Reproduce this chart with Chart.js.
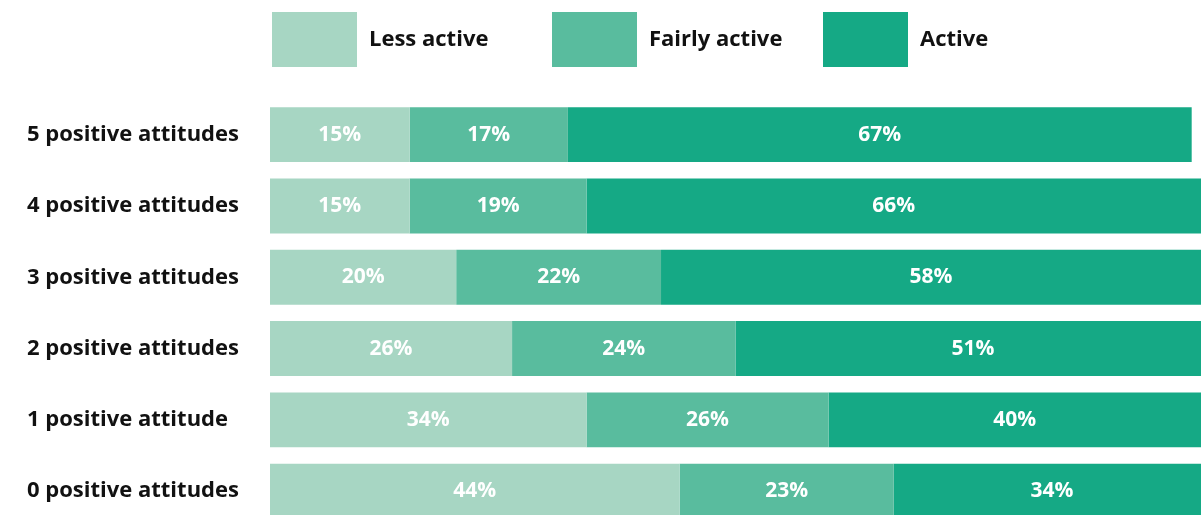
<!DOCTYPE html>
<html>
<head>
<meta charset="utf-8">
<script src="https://cdn.jsdelivr.net/npm/chart.js@4.4.1/dist/chart.umd.min.js"></script>
<style>
  html, body { margin: 0; padding: 0; background: #fff; overflow: hidden; }
  canvas { display: block; }
</style>
</head>
<body>
<canvas id="c" width="1201" height="543"></canvas>
<script>
// Activity level by number of positive attitudes (share of people, %)
const categories = [
  '5 positive attitudes',
  '4 positive attitudes',
  '3 positive attitudes',
  '2 positive attitudes',
  '1 positive attitude',
  '0 positive attitudes'
];
const seriesNames = ['Less active', 'Fairly active', 'Active'];
const lessActive   = [15, 15, 20, 26, 34, 44];
const fairlyActive = [17, 19, 22, 24, 26, 23];
const active       = [67, 66, 58, 51, 40, 34];

const palette = ['#a7d6c3', '#59bc9e', '#15a985'];
const FONT = '"Open Sans", "DejaVu Sans", sans-serif';

// Percentage labels centred inside each bar segment
const segmentLabels = {
  id: 'segmentLabels',
  afterDatasetsDraw(chart) {
    const { ctx, chartArea } = chart;
    ctx.save();
    ctx.beginPath();
    ctx.rect(chartArea.left, chartArea.top, chartArea.right - chartArea.left, chartArea.bottom - chartArea.top);
    ctx.clip();
    ctx.fillStyle = '#ffffff';
    ctx.font = '700 21px ' + FONT;
    ctx.textAlign = 'center';
    ctx.textBaseline = 'middle';
    chart.data.datasets.forEach((ds, di) => {
      const meta = chart.getDatasetMeta(di);
      meta.data.forEach((bar, i) => {
        const x = (bar.x + bar.base) / 2;
        ctx.fillText(ds.data[i] + '%', x, bar.y);
      });
    });
    ctx.restore();
  }
};

// Legend row of large swatches above the bars
const swatchLegend = {
  id: 'swatchLegend',
  afterDraw(chart, args, opts) {
    const { ctx, chartArea } = chart;
    ctx.save();
    ctx.font = '700 22px ' + FONT;
    ctx.textBaseline = 'middle';
    ctx.textAlign = 'left';
    chart.data.datasets.forEach((ds, i) => {
      const x = chartArea.left + opts.offsets[i];
      ctx.fillStyle = ds.backgroundColor;
      ctx.fillRect(x, opts.top, opts.boxWidth, opts.boxHeight);
      ctx.fillStyle = '#111111';
      ctx.fillText(ds.label, x + opts.boxWidth + opts.gap, opts.top + opts.boxHeight / 2);
    });
    ctx.restore();
  }
};

const seriesValues = [lessActive, fairlyActive, active];

new Chart(document.getElementById('c'), {
  type: 'bar',
  data: {
    labels: categories,
    datasets: seriesNames.map((name, i) => ({
      label: name,
      data: seriesValues[i],
      backgroundColor: palette[i],
      borderWidth: 0,
      barPercentage: 0.77,
      categoryPercentage: 1
    }))
  },
  options: {
    indexAxis: 'y',
    responsive: false,
    animation: false,
    layout: { padding: { left: 27, top: 99, right: 0, bottom: 0 } },
    scales: {
      x: { stacked: true, min: 0, max: 100, display: false },
      y: {
        stacked: true,
        grid: { display: false },
        border: { display: false },
        ticks: {
          crossAlign: 'far',
          color: '#111111',
          font: { family: FONT, size: 22, weight: '700' }
        },
        afterFit(scale) { scale.width = 243; }
      }
    },
    plugins: {
      legend: { display: false },
      tooltip: { enabled: false },
      swatchLegend: { offsets: [2, 282, 553], top: 12, boxWidth: 85, boxHeight: 55, gap: 12 }
    }
  },
  plugins: [segmentLabels, swatchLegend]
});
</script>
</body>
</html>
